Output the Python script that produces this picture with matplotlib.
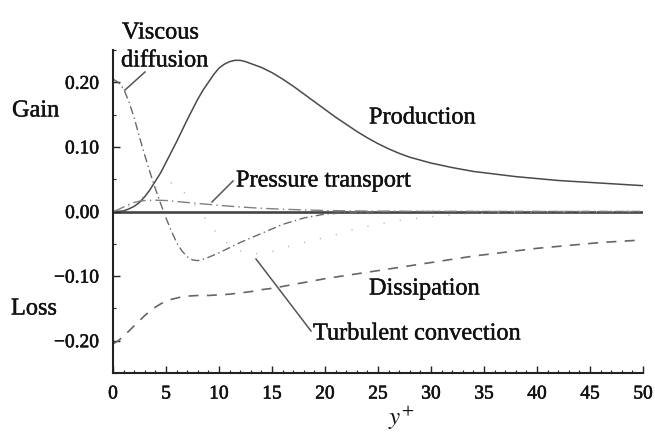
import matplotlib
matplotlib.use("Agg")
import matplotlib.pyplot as plt
import matplotlib.patheffects as pe
from matplotlib.ticker import MultipleLocator

# ---- data ----
prod_y = [0, 0.5, 1, 1.5, 2, 2.5, 3, 3.5, 4, 4.5, 5, 5.5, 6, 6.5, 7, 7.5, 8, 8.5, 9, 9.5, 10, 10.5, 11, 11.5, 12,
          12.5, 13, 14, 15, 16, 17, 18, 19, 20, 21, 22, 23, 24, 25, 26, 27, 28, 30, 32, 34, 36, 38, 40, 42, 44, 46, 48, 50]
prod_v = [0, 0.0003, 0.001, 0.004, 0.008, 0.014, 0.023, 0.034, 0.047, 0.06, 0.076, 0.092, 0.108, 0.125, 0.142, 0.158,
          0.174, 0.188, 0.2, 0.212, 0.222, 0.228, 0.232, 0.234, 0.234, 0.232, 0.229, 0.223, 0.215, 0.205, 0.194, 0.182,
          0.17, 0.158, 0.146, 0.135, 0.124, 0.114, 0.105, 0.097, 0.09, 0.084, 0.075, 0.068, 0.062, 0.058, 0.054, 0.051,
          0.048, 0.046, 0.044, 0.042, 0.04]

diss_y = [0, 0.5, 1, 1.5, 2, 2.5, 3, 3.5, 4, 4.5, 5, 5.5, 6, 6.5, 7, 8, 9, 10, 11, 12, 13, 14, 15, 16, 17, 18, 19, 20,
          22, 24, 26, 28, 30, 32, 34, 36, 38, 40, 42, 44, 46, 48, 50]
diss_v = [-0.205, -0.2, -0.193, -0.185, -0.177, -0.169, -0.161, -0.154, -0.148, -0.143, -0.139, -0.136, -0.134, -0.132,
          -0.131, -0.13, -0.13, -0.129, -0.128, -0.126, -0.124, -0.121, -0.119, -0.116, -0.113, -0.11, -0.107, -0.104,
          -0.099, -0.094, -0.089, -0.084, -0.079, -0.074, -0.069, -0.065, -0.061, -0.057, -0.054, -0.051, -0.048,
          -0.046, -0.044]

visc_y = [0, 0.5, 1, 1.5, 2, 2.5, 3, 3.5, 4, 4.5, 5, 5.5, 6, 6.5, 7, 7.5, 8, 8.5, 9, 10, 11, 12, 13, 14, 15, 16, 17,
          18, 19, 20, 22, 24, 26, 50]
visc_v = [0.205, 0.2, 0.19, 0.17, 0.145, 0.115, 0.087, 0.06, 0.035, 0.012, -0.01, -0.03, -0.048, -0.061, -0.07,
          -0.075, -0.076, -0.074, -0.071, -0.064, -0.056, -0.048, -0.041, -0.034, -0.027, -0.02, -0.015, -0.01,
          -0.007, -0.004, -0.002, -0.001, 0, 0]

pres_y = [0, 0.5, 1, 1.5, 2, 2.5, 3, 4, 5, 6, 7, 8, 9, 10, 12, 14, 16, 18, 20, 24, 28, 35, 50]
pres_v = [0, 0.003, 0.007, 0.011, 0.014, 0.016, 0.017, 0.0175, 0.017, 0.0155, 0.014, 0.0125, 0.011, 0.0095, 0.007,
          0.005, 0.0035, 0.0025, 0.0015, 0.0007, 0.0003, 0, 0]

turb_y = [0, 1, 2, 3, 4, 5, 5.5, 6, 7, 8, 9, 10, 11, 12, 13, 14, 15, 16, 17, 18, 19, 20, 21, 22, 23, 24, 25, 26, 27,
          28, 30, 33, 36, 40, 50]
turb_v = [0, 0.004, 0.013, 0.025, 0.037, 0.044, 0.044, 0.04, 0.025, 0.005, -0.018, -0.037, -0.052, -0.061, -0.065,
          -0.065, -0.062, -0.057, -0.052, -0.048, -0.044, -0.04, -0.036, -0.031, -0.027, -0.023, -0.02, -0.017,
          -0.014, -0.012, -0.008, -0.004, -0.002, -0.001, 0]

x_ticks = [0, 5, 10, 15, 20, 25, 30, 35, 40, 45, 50]
y_ticks = [-0.20, -0.10, 0.00, 0.10, 0.20]
y_tick_labels = ["\u22120.20", "\u22120.10", "0.00", "0.10", "0.20"]

plt.rcParams['font.family'] = ['Liberation Serif', 'DejaVu Serif']
plt.rcParams['mathtext.fontset'] = 'stix'

fig = plt.figure(figsize=(6.55, 4.41), dpi=100)
ax = fig.add_axes([113/655, 1 - 373/441, (643-113)/655, (373-50)/441])

ax.axhline(0, color='#444444', lw=1.9, zorder=1)
ax.plot(prod_y, prod_v, color='#4a4a4a', lw=1.1, ls='-')
ax.plot(diss_y, diss_v, color='#666666', lw=1.2, ls=(0, (6, 5)))
ax.plot(visc_y, visc_v, color='#6a6a6a', lw=1.0, ls=(0, (6, 2.5, 1, 2.5)))
ax.plot(pres_y, pres_v, color='#808080', lw=1.0, ls=(0, (9, 3, 1, 3)))
ax.plot(turb_y, turb_v, color='#b0b0b0', lw=1.0, ls=(0, (0.8, 11)))

ax.set_xlim(0, 50)
ax.set_ylim(-0.25, 0.25)
ax.set_xticks(x_ticks)
ax.set_yticks(y_ticks)
ax.set_yticklabels(y_tick_labels)
ax.xaxis.set_minor_locator(MultipleLocator(1))
ax.yaxis.set_minor_locator(MultipleLocator(0.05))
ax.tick_params(which='major', direction='in', length=5, width=1.0, labelsize=14, color='#222222',
               labelcolor='#111111')
ax.tick_params(which='minor', direction='in', length=2.5, width=0.8, color='#222222')
ax.tick_params(axis='y', which='major', pad=10)
ax.tick_params(axis='x', which='major', pad=9)
for s in ['top', 'right']:
    ax.spines[s].set_visible(False)
for s in ['left', 'bottom']:
    ax.spines[s].set_linewidth(1.5)
    ax.spines[s].set_color('#222222')

tick_stroke = [pe.withStroke(linewidth=0.4, foreground='#111111')]
text_stroke = [pe.withStroke(linewidth=0.3, foreground='#111111')]
for lbl in ax.get_xticklabels() + ax.get_yticklabels():
    lbl.set_path_effects(tick_stroke)

fig.text(401/655, 1 - 418/441, r'$y^{+}$', fontsize=18, ha='center', va='center', color='#111111')

fs = 17.5
def fig_text(x, y, s, ha='left'):
    fig.text(x/655, 1 - y/441, s, fontsize=fs, ha=ha, va='center', color='#111111', path_effects=text_stroke)

fig_text(12, 111, 'Gain')
fig_text(11, 309, 'Loss')
fig_text(122, 33, 'Viscous')
fig_text(121, 61, 'diffusion')
fig_text(369, 118, 'Production')
fig_text(236, 181, 'Pressure transport')
fig_text(369, 289, 'Dissipation')
fig_text(313, 334, 'Turbulent convection')

def pointer(x0, y0, x1, y1):
    fig.add_artist(plt.Line2D([x0/655, x1/655], [1 - y0/441, 1 - y1/441], color='#555555', lw=1.1))

pointer(145, 72, 125, 90)
pointer(233, 181, 212, 202)
pointer(311, 331, 256, 259)

fig.savefig('out.png', dpi=100)
